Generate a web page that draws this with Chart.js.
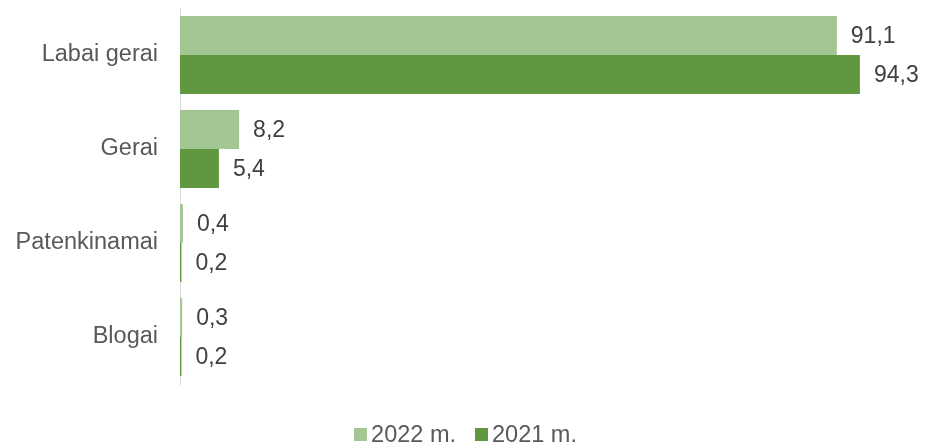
<!DOCTYPE html>
<html>
<head>
<meta charset="utf-8">
<script src="https://cdn.jsdelivr.net/npm/chart.js@4"></script>
<style>
html,body{margin:0;padding:0;background:#fff;}
#wrap{width:926px;height:446px;position:relative;}
#legend{position:absolute;left:0;top:421px;width:926px;height:27px;display:flex;justify-content:center;align-items:center;padding-left:5px;box-sizing:border-box;
  font-family:'Liberation Sans', Arial, sans-serif;font-size:23.5px;color:#595959;}
#legend .item{display:flex;align-items:center;margin:0 9.5px;}
#legend .box{width:13px;height:13px;margin-right:4px;}
</style>
</head>
<body>
<div id="wrap"><canvas id="c"></canvas><div id="legend"></div></div>
<script>
const categories = ["Labai gerai", "Gerai", "Patenkinamai", "Blogai"];
const series2022 = [91.1, 8.2, 0.4, 0.3];
const series2021 = [94.3, 5.4, 0.2, 0.2];
const seriesNames = ["2022 m.", "2021 m."];
const seriesColors = ["#a3c693", "#5f983e"];

const FONT = "'Liberation Sans', Arial, sans-serif";

const labelPlugin = {
  id: 'valLabels',
  afterDatasetsDraw(chart) {
    const ctx = chart.ctx;
    ctx.save();
    ctx.font = "23px " + FONT;
    ctx.fillStyle = "#404040";
    ctx.textAlign = "left";
    ctx.textBaseline = "middle";
    chart.data.datasets.forEach((ds, i) => {
      const meta = chart.getDatasetMeta(i);
      meta.data.forEach((bar, j) => {
        const txt = ds.data[j].toFixed(1).replace('.', ',');
        ctx.fillText(txt, bar.x + 14, bar.y + 1);
      });
    });
    ctx.restore();
  }
};

const chart = new Chart(document.getElementById('c'), {
  type: 'bar',
  data: {
    labels: categories,
    datasets: [
      { label: seriesNames[0], data: series2022, backgroundColor: seriesColors[0], borderWidth: 0 },
      { label: seriesNames[1], data: series2021, backgroundColor: seriesColors[1], borderWidth: 0 }
    ]
  },
  options: {
    indexAxis: 'y',
    responsive: true,
    maintainAspectRatio: false,
    animation: false,
    layout: { padding: { top: 8, right: 25, bottom: 62, left: 0 } },
    datasets: { bar: { categoryPercentage: 0.83, barPercentage: 1.0 } },
    scales: {
      x: { display: false, min: 0, max: 100 },
      y: {
        grid: { display: false, drawTicks: false },
        border: { display: true, color: '#d9d9d9', width: 1 },
        ticks: { font: { size: 23.5, family: FONT }, color: '#595959', padding: 22 },
        afterFit(scale) { scale.width = 180; scale.paddingTop = 0; scale.paddingBottom = 0; }
      }
    },
    plugins: {
      legend: { display: false },
      tooltip: { enabled: false }
    }
  },
  plugins: [labelPlugin]
});

const legendEl = document.getElementById('legend');
seriesNames.forEach((name, i) => {
  const item = document.createElement('div');
  item.className = 'item';
  const box = document.createElement('span');
  box.className = 'box';
  box.style.background = seriesColors[i];
  const txt = document.createElement('span');
  txt.textContent = name;
  item.appendChild(box);
  item.appendChild(txt);
  legendEl.appendChild(item);
});
</script>
</body>
</html>
